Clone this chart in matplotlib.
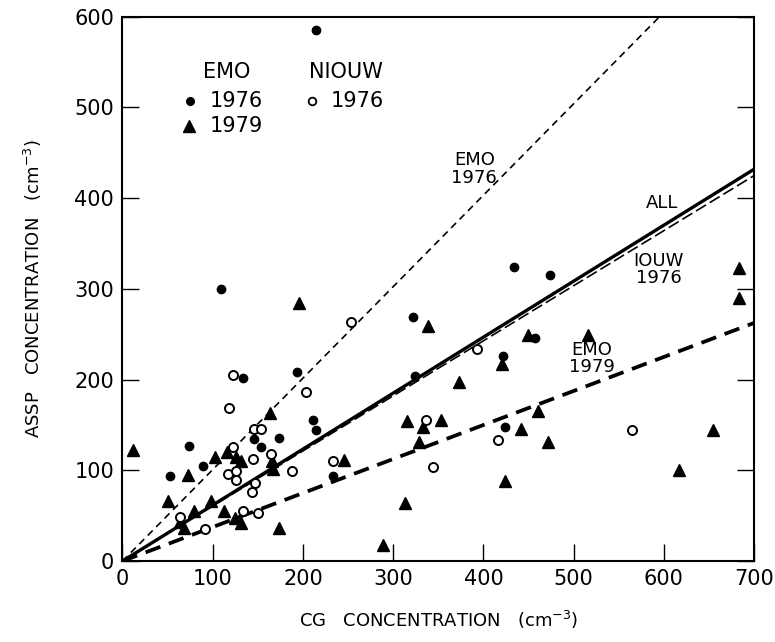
import numpy as np
import matplotlib
matplotlib.use("Agg")
import matplotlib.pyplot as plt

# EMO 1976 (filled circles)
emo76_x = [215, 109, 134, 193, 146, 174, 153, 74, 89, 53, 211, 215, 233, 322, 324, 434, 474, 422, 457, 424]
emo76_y = [585, 300, 202, 208, 135, 136, 126, 127, 105, 94, 155, 145, 94, 269, 204, 324, 315, 226, 246, 148]

# EMO 1979 (filled triangles)
emo79_x = [196, 163, 12, 116, 103, 126, 131, 166, 167, 73, 50, 98, 79, 64, 68, 113, 125, 131,
           174, 289, 245, 339, 449, 516, 373, 421, 315, 333, 353, 329, 442, 461, 472, 424, 313,
           617, 655, 683, 683]
emo79_y = [285, 163, 122, 120, 115, 115, 110, 110, 102, 95, 66, 66, 55, 43, 37, 55, 48, 42,
           36, 18, 111, 259, 249, 249, 197, 217, 154, 148, 155, 131, 146, 165, 131, 88, 64,
           100, 145, 323, 290]

# NIOUW 1976 (open circles)
niouw_x = [253, 203, 123, 118, 146, 154, 123, 145, 165, 117, 126, 126, 188, 147, 144, 64,
           134, 150, 92, 233, 344, 336, 393, 416, 565]
niouw_y = [263, 186, 205, 169, 146, 146, 126, 113, 118, 96, 99, 89, 99, 86, 76, 49,
           55, 53, 35, 110, 104, 155, 234, 134, 144]

# regression slopes (lines through origin)
slope_all = 0.617
slope_iouw = 0.607
slope_emo76 = 1.008
slope_emo79 = 0.375

fig = plt.figure(figsize=(7.75, 6.42), dpi=100)
ax = fig.add_axes([0.158, 0.126, 0.815, 0.848])

xs = np.array([0, 700])
ax.plot(xs, slope_all * xs, color="black", lw=2.4, solid_capstyle="butt")
ax.plot(xs, slope_iouw * xs, color="black", lw=1.2, dashes=(7, 2.6))
ax.plot([0, 600 / slope_emo76], [0, 600], color="black", lw=1.2, dashes=(4.2, 3))
ax.plot(xs, slope_emo79 * xs, color="black", lw=2.7, dashes=(4.2, 2.4))

ax.plot(emo76_x, emo76_y, "o", color="black", ms=6, ls="none")
ax.plot(emo79_x, emo79_y, "^", color="black", ms=8.5, ls="none")
ax.plot(niouw_x, niouw_y, "o", mfc="white", mec="black", mew=1.4, ms=6.5, ls="none")

# line labels
fs = 13
ax.text(390, 432, "EMO\n1976", fontsize=fs, ha="center", va="center", linespacing=0.95)
ax.text(598, 395, "ALL", fontsize=fs, ha="center", va="center")
ax.text(594, 321, "IOUW\n1976", fontsize=fs, ha="center", va="center", linespacing=0.95)
ax.text(520, 223, "EMO\n1979", fontsize=fs, ha="center", va="center", linespacing=0.95)

# legend block
lfs = 15
ax.text(115, 539, "EMO", fontsize=lfs, ha="center", va="center")
ax.plot([75], [507], "o", color="black", ms=5.5)
ax.text(97, 507, "1976", fontsize=lfs, ha="left", va="center")
ax.plot([74], [479], "^", color="black", ms=8.5)
ax.text(97, 479, "1979", fontsize=lfs, ha="left", va="center")
ax.text(248, 539, "NIOUW", fontsize=lfs, ha="center", va="center")
ax.plot([210], [507], "o", mfc="white", mec="black", mew=1.3, ms=5.5)
ax.text(231, 507, "1976", fontsize=lfs, ha="left", va="center")

ax.set_xlim(0, 700)
ax.set_ylim(0, 600)
ax.set_xticks(np.arange(0, 701, 100))
ax.set_yticks(np.arange(0, 601, 100))
ax.tick_params(direction="in", length=12, width=1, labelsize=15, right=True, top=False, pad=6)
for s in ax.spines.values():
    s.set_linewidth(1.5)

ax.set_xlabel("CG   CONCENTRATION   (cm$^{-3}$)", fontsize=13, labelpad=14)
ax.set_ylabel("ASSP   CONCENTRATION   (cm$^{-3}$)", fontsize=13, labelpad=22)

fig.savefig("out.png", dpi=100)
